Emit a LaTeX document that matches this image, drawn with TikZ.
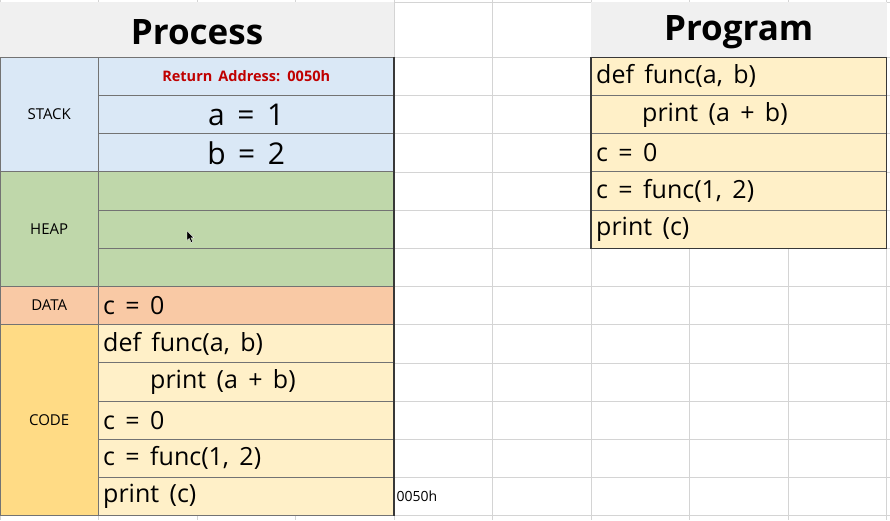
\documentclass[tikz,border=0pt]{standalone}
\usepackage{fontspec}
\setmainfont{Open Sans}[WordSpace=1.6]
\definecolor{hdrgray}{HTML}{F0F0F0}
\definecolor{stackblue}{HTML}{DAE8F6}
\definecolor{heapgreen}{HTML}{BFD7AA}
\definecolor{dataorange}{HTML}{F9C9A5}
\definecolor{codegold}{HTML}{FFDB85}
\definecolor{codecell}{HTML}{FFF0C8}
\definecolor{retred}{HTML}{C00000}
\tikzset{
	gridline/.style={draw=black!17, line width=0.8pt},
	cell/.style={draw=black!55, line width=1.1pt},
	outer/.style={draw=black!78, line width=1.5pt},
	title/.style={inner sep=0pt, font=\fontsize{35}{40}\selectfont\bfseries},
	seglabel/.style={inner sep=0pt, font=\fontsize{15}{18}\selectfont},
	codetext/.style={anchor=west, inner sep=0pt, font=\fontsize{25}{29}\selectfont},
	bigvar/.style={inner sep=0pt, font=\fontsize{30}{34}\selectfont}
}

\begin{document}
\begin{tikzpicture}[x=1pt, y=-1pt]
			%%%%% START %%%%%
			\useasboundingbox (0,0) rectangle (890,520);
			\fill[white] (0,0) rectangle (890,520);
			
			% sheet grid
			\foreach \i in {0,...,12}
				\draw[gridline] (0,{57.3+38.2*\i}) -- (890,{57.3+38.2*\i});
			\draw[gridline] (0,2) -- (890,2);
			\foreach \i in {0,...,9}
				\draw[gridline] ({98.5*\i},0) -- ({98.5*\i},520);
			
			% process table
			\fill[hdrgray] (0,2) rectangle (394,57.3);
			\node[title] (ttlproc) at (197,32.5) {Process};
			
			\fill[stackblue] (0,57.3) rectangle (394,171.9);
			\fill[heapgreen] (0,171.9) rectangle (394,286.5);
			\fill[dataorange] (0,286.5) rectangle (394,324.7);
			\fill[codegold] (0,324.7) rectangle (98.5,515.7);
			\fill[codecell] (98.5,324.7) rectangle (394,515.7);
			
			\foreach \i in {1,2,4,5,8,9,10,11}
				\draw[cell] (98.5,{57.3+38.2*\i}) -- (394,{57.3+38.2*\i});
			\foreach \i in {0,3,6,7,12}
				\draw[cell] (0,{57.3+38.2*\i}) -- (394,{57.3+38.2*\i});
			\draw[cell] (98.5,57.3) -- (98.5,515.7);
			\draw[cell] (0.5,57.3) -- (0.5,515.7);
			\draw[outer] (394,57.3) -- (394,515.7);
			
			\node[seglabel] (lblstack) at (49.2,114.6) {STACK};
			\node[seglabel] (lblheap) at (49.2,229.2) {HEAP};
			\node[seglabel] (lbldata) at (49.2,305.6) {DATA};
			\node[seglabel] (lblcode) at (49.2,420.2) {CODE};
			
			\node[inner sep=0pt, text=retred, font=\fontsize{14.5}{17}\selectfont\bfseries] (retaddr) at (246.2,76.4) {Return Address: 0050h};
			\node[bigvar] (vara) at (246.2,114.6) {a = 1};
			\node[bigvar] (varb) at (246.2,152.8) {b = 2};
			
			\node[codetext] (datac) at (103,305.6) {c = 0};
			\node[codetext] (code1) at (103,343.8) {def func(a, b)};
			\node[codetext] (code2) at (150,382) {print (a + b)};
			\node[codetext] (code3) at (103,420.2) {c = 0};
			\node[codetext] (code4) at (103,458.4) {c = func(1, 2)};
			\node[codetext] (code5) at (103,496.6) {print (c)};
			
			\node[anchor=west, inner sep=0pt, font=\fontsize{14}{17}\selectfont] (addr) at (396.5,496.6) {0050h};
			
			% mouse pointer
			\draw[fill=black, draw=white, line width=0.3pt] (187,231) -- (187,240.5) -- (189.3,238.4) -- (191.2,242.6) -- (192.8,241.9) -- (190.9,237.8) -- (194,237.8) -- cycle;
			
			% program table
			\fill[hdrgray] (591,2) rectangle (886.5,57.3);
			\node[title] (ttlprog) at (738.7,32.5) {Program};
			
			\fill[codecell] (591,57.3) rectangle (886.5,248.3);
			\foreach \i in {1,...,4}
				\draw[cell] (591,{57.3+38.2*\i}) -- (886.5,{57.3+38.2*\i});
			\draw[outer] (591,57.3) rectangle (886.5,248.3);
			
			\node[codetext] (prog1) at (596,76.4) {def func(a, b)};
			\node[codetext] (prog2) at (642,114.6) {print (a + b)};
			\node[codetext] (prog3) at (596,152.8) {c = 0};
			\node[codetext] (prog4) at (596,191) {c = func(1, 2)};
			\node[codetext] (prog5) at (596,229.2) {print (c)};
			%%%%% END %%%%%
\end{tikzpicture}
\end{document}
